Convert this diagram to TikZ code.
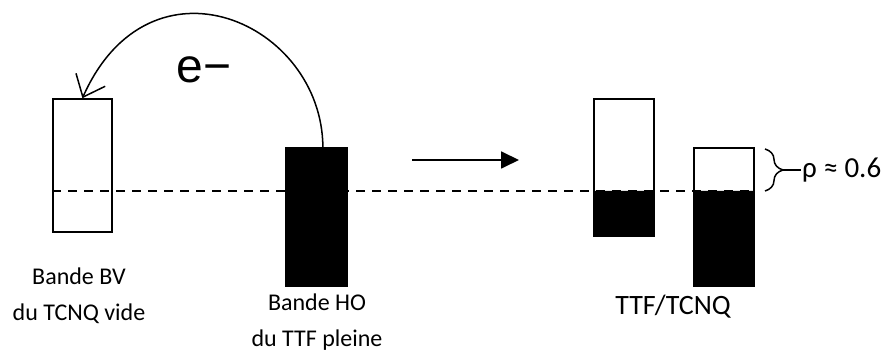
\documentclass[tikz,border=0pt]{standalone}
\usepackage{fontspec}
\setmainfont{Carlito}
\newfontfamily\arialfont{Liberation Sans}
\usetikzlibrary{arrows.meta,decorations.pathreplacing}

\begin{document}
\begin{tikzpicture}[x=1pt,y=1pt,
  band/.style={draw,line width=1.8pt,inner sep=0pt,anchor=south west},
  lab/.style={font=\fontsize{24}{36}\selectfont,align=center}]
\useasboundingbox (0,0) rectangle (885,352);
\draw[line width=1.8pt,dash pattern=on 9pt off 7pt] (52,161)--(753,161);
\node[band,minimum width=59pt,minimum height=133pt] (bv) at (52,119){};
\node[band,fill,minimum width=61pt,minimum height=138pt] (ho) at (285,65){};
\fill (593,115) rectangle (653,161) (693,65) rectangle (753,161);
\node[band,minimum width=60pt,minimum height=137pt] (tf) at (593,115){};
\node[band,minimum width=60pt,minimum height=138pt] (tc) at (693,65){};
\draw[line width=1.5pt,-{Straight Barb[length=19pt,width=32pt,line width=1.5pt]}] ([xshift=6.5pt]ho.north) .. controls (322,330) and (149.9,405.6) .. (bv.north);
\node[font=\arialfont\fontsize{48}{48}\selectfont] (el) at (204,282){e−};
\coordinate (a1) at (412,192);\coordinate (a2) at (519,192);
\draw[line width=1.8pt,-{Triangle[length=18pt,width=17pt]}] (a1)--(a2);
\draw[line width=1.5pt,decorate,decoration={brace,amplitude=18pt}] (765,203)--(765,161);
\node[font=\fontsize{29}{29}\selectfont,anchor=west,inner sep=1pt] (rho) at (801,182){ρ ≈ 0.6};
\draw[line width=1.5pt] (783,182)--(rho.west);
\node[lab] (lbv) at (79,56){Bande BV\\du TCNQ vide};
\node[lab] (lho) at (317,30){Bande HO\\du TTF pleine};
\node[font=\fontsize{28}{28}\selectfont] (ltt) at (673,45){TTF/TCNQ};
\end{tikzpicture}
\end{document}
